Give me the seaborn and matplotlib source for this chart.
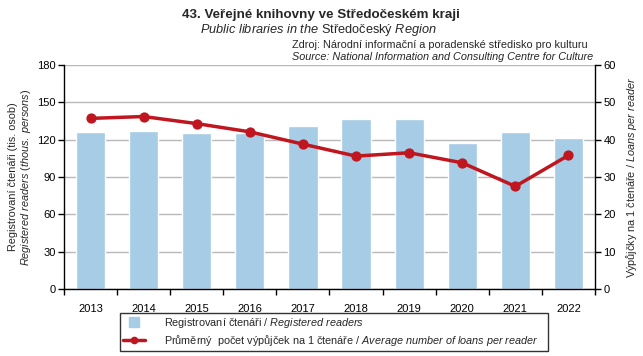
import matplotlib
matplotlib.use("Agg")
import matplotlib.pyplot as plt
from matplotlib.lines import Line2D
import seaborn as sns
import pandas as pd

years = ["2013", "2014", "2015", "2016", "2017", "2018", "2019", "2020", "2021", "2022"]
readers = [126, 127, 125, 125, 131, 137, 136.5, 117, 126, 121]
loans = [45.7, 46.2, 44.3, 42.1, 38.8, 35.6, 36.5, 33.8, 27.5, 35.8]
left_ticks = [0, 30, 60, 90, 120, 150, 180]
right_ticks = [0, 10, 20, 30, 40, 50, 60]

bar_color = "#a6cce6"
line_color = "#c0161f"

sns.set_theme(style="white")
plt.rcParams["font.family"] = ["Liberation Sans", "DejaVu Sans"]
plt.rcParams["mathtext.fontset"] = "custom"
plt.rcParams["mathtext.rm"] = "Liberation Sans"
plt.rcParams["mathtext.it"] = "Liberation Sans:italic"
plt.rcParams["mathtext.bf"] = "Liberation Sans:bold"

df = pd.DataFrame({"year": years, "readers": readers, "loans": loans})

fig = plt.figure(figsize=(6.43, 3.56), dpi=100)
ax = fig.add_axes([0.0995, 0.1882, 0.8258, 0.6292])
ax2 = ax.twinx()

sns.barplot(data=df, x="year", y="readers", color=bar_color, saturation=1,
            width=0.55, ax=ax, zorder=2)
sns.pointplot(data=df, x="year", y="loans", color=line_color, markers="o",
              markersize=5.5, linewidth=2.5, ax=ax2)

ax.set_ylim(0, 180)
ax.set_yticks(left_ticks)
ax2.set_ylim(0, 60)
ax2.set_yticks(right_ticks)
ax.set_xlim(-0.5, 9.5)

ax.yaxis.grid(True, color="#b8b8b8", linewidth=1)
ax.set_axisbelow(True)
ax2.grid(False)

for a in (ax, ax2):
    for s in a.spines.values():
        s.set_visible(False)
ax.spines["left"].set_visible(True)
ax.spines["bottom"].set_visible(True)
ax2.spines["right"].set_visible(True)
for s in (ax.spines["left"], ax.spines["bottom"], ax2.spines["right"]):
    s.set_color("black")
    s.set_linewidth(1)

ax.tick_params(axis="y", which="major", left=True, length=4, width=1, color="black",
               labelsize=8, pad=2, labelcolor="black")
ax2.tick_params(axis="y", which="major", right=True, length=4, width=1, color="black",
                labelsize=8, pad=2, labelcolor="black")
ax.set_xticks([i + 0.5 for i in range(-1, 10)], minor=True)
ax.tick_params(axis="x", which="minor", bottom=True, length=4, width=1, color="black")
ax.tick_params(axis="x", which="major", bottom=False, labelsize=8, pad=5, labelcolor="black")

ax.set_xlabel("")
ax.set_ylabel("Registrovaní čtenáři (tis. osob)\n$\\mathit{Registered\\ readers\\ (thous.\\ persons)}$",
              fontsize=7.8, labelpad=3, linespacing=1.1)
ax2.set_ylabel("Výpůjčky na 1 čtenáře / $\\mathit{Loans\\ per\\ reader}$", fontsize=7.8, labelpad=6)

fig.text(0.499, 0.958, "43. Veřejné knihovny ve Středočeském kraji", ha="center", va="center",
         fontsize=9.6, fontweight="bold")
fig.text(0.495, 0.917, "$\\mathit{Public\\ libraries\\ in\\ the}$ Středočeský $\\mathit{Region}$",
         ha="center", va="center", fontsize=9.2)
fig.text(0.454, 0.875, "Zdroj: Národní informační a poradenské středisko pro kulturu",
         ha="left", va="center", fontsize=7.8)
fig.text(0.454, 0.839, "Source: National Information and Consulting Centre for Culture",
         ha="left", va="center", fontsize=7.8, style="italic")

handles = [
    Line2D([], [], marker="s", linestyle="none", color=bar_color, markersize=7),
    Line2D([], [], marker="o", color=line_color, linewidth=2.5, markersize=4.5),
]
labels = [
    "Registrovaní čtenáři / $\\mathit{Registered\\ readers}$",
    "Průměrný  počet výpůjček na 1 čtenáře / $\\mathit{Average\\ number\\ of\\ loans\\ per\\ reader}$",
]
leg = fig.legend(handles, labels, loc="upper left",
                 bbox_to_anchor=(120 / 643, 0.011, 428 / 643, 0.11), mode="expand",
                 fontsize=7.8, frameon=True, fancybox=False, edgecolor="black",
                 borderpad=0.3, labelspacing=0.25, handlelength=2.0, handletextpad=1.8,
                 borderaxespad=0)
leg.get_frame().set_linewidth(1)

fig.savefig("out.png", dpi=100)
